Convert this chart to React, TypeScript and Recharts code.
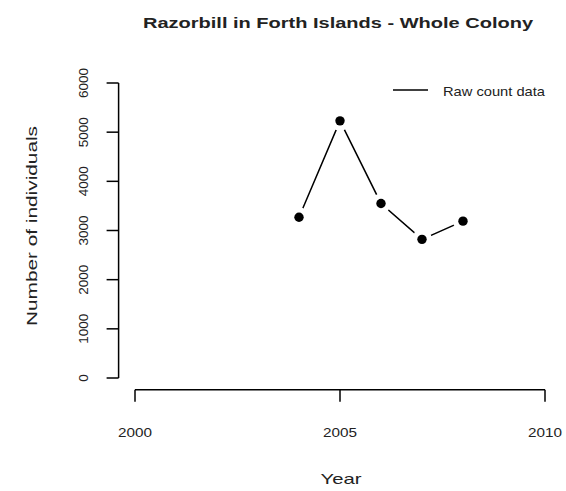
import React from 'react';
import { LineChart, Line, XAxis, YAxis, ReferenceLine, Legend, Customized } from 'recharts';

const years = [2004, 2005, 2006, 2007, 2008];
const counts = [3270, 5230, 3550, 2820, 3190];
const xTicks = [2000, 2005, 2010];
const yTicks = [0, 1000, 2000, 3000, 4000, 5000, 6000];
const title = 'Razorbill in Forth Islands - Whole Colony';
const xLabel = 'Year';
const yLabel = 'Number of individuals';
const seriesName = 'Raw count data';

const data = years.map((y, i) => ({ year: y, count: counts[i] }));

const FONT = '"Liberation Sans", Arial, sans-serif';

const XTick = (props: any) => {
  const { x, y, payload } = props;
  return (
    <text x={x} y={y + 35} textAnchor="middle" fontFamily={FONT} fontSize={13} fill="#222"
      textLength={34} lengthAdjust="spacingAndGlyphs">
      {payload.value}
    </text>
  );
};

const YTick = (props: any) => {
  const { x, y, payload } = props;
  const bx = x - 18.6;
  const len = String(payload.value).length;
  return (
    <text x={bx} y={y} textAnchor="middle" fontFamily={FONT} fontSize={13} fill="#222"
      transform={`rotate(-90, ${bx}, ${y})`} textLength={7.5 * len} lengthAdjust="spacingAndGlyphs">
      {payload.value}
    </text>
  );
};

const Dot = (props: any) => {
  const { cx, cy, index } = props;
  return (
    <g key={`d${index}`}>
      <circle cx={cx} cy={cy} r={10} fill="#fff" />
      <circle cx={cx} cy={cy} r={4.7} fill="#000" />
    </g>
  );
};

const Texts = () => (
  <g fontFamily={FONT} fill="#222">
    <text x={338} y={28} textAnchor="middle" fontSize={15} fontWeight="bold"
      textLength={390} lengthAdjust="spacingAndGlyphs">{title}</text>
    <text x={341} y={484} textAnchor="middle" fontSize={15}
      textLength={41} lengthAdjust="spacingAndGlyphs">{xLabel}</text>
    <text x={37} y={226} textAnchor="middle" fontSize={15} transform="rotate(-90, 37, 226)"
      textLength={200} lengthAdjust="spacingAndGlyphs">{yLabel}</text>
  </g>
);

const LegendContent = () => (
  <svg width={170} height={24} style={{ display: 'block' }}>
    <line x1={8} y1={11} x2={43} y2={11} stroke="#000" strokeWidth={1.5} />
    <text x={58} y={17} fontFamily={FONT} fontSize={13} fill="#222"
      textLength={102} lengthAdjust="spacingAndGlyphs">{seriesName}</text>
  </svg>
);

export default function App() {
  return (
    <div style={{ position: 'absolute', left: 0, top: 0, background: '#fff' }}>
      <LineChart width={566} height={491} data={data}
        margin={{ top: 71.2, right: 4.6, left: 58.6, bottom: 41.2 }}>
        <XAxis dataKey="year" type="number" domain={[1999.6, 2010.4]} ticks={xTicks}
          allowDataOverflow interval={0} height={60} tickSize={12} tickMargin={0}
          axisLine={false} tickLine={{ stroke: '#000', strokeWidth: 1.5 }} tick={<XTick />} />
        <YAxis type="number" domain={[-240, 6240]} ticks={yTicks} allowDataOverflow
          interval={0} width={60} tickSize={12} tickMargin={0}
          axisLine={false} tickLine={{ stroke: '#000', strokeWidth: 1.5 }} tick={<YTick />} />
        <ReferenceLine segment={[{ x: 2000, y: -240 }, { x: 2010, y: -240 }]}
          stroke="#000" strokeWidth={1.5} ifOverflow="visible" />
        <ReferenceLine segment={[{ x: 1999.6, y: 0 }, { x: 1999.6, y: 6000 }]}
          stroke="#000" strokeWidth={1.5} ifOverflow="visible" />
        <Line type="linear" dataKey="count" name={seriesName} stroke="#000" strokeWidth={1.5}
          dot={Dot} activeDot={false} isAnimationActive={false} />
        <Legend content={LegendContent} layout="horizontal" verticalAlign="middle" align="center"
          wrapperStyle={{ position: 'absolute', left: 385, top: 79, width: 170, height: 24 }} />
        <Customized component={Texts} />
      </LineChart>
    </div>
  );
}
